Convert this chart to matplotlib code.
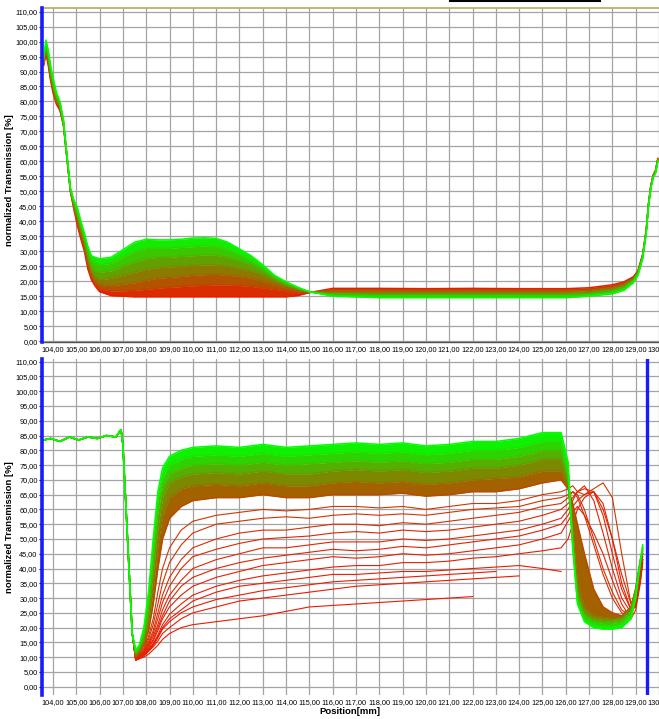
import numpy as np
import matplotlib
matplotlib.use('Agg')
import matplotlib.pyplot as plt
from matplotlib.lines import Line2D

nan = float('nan')
FONT = ['Liberation Sans', 'DejaVu Sans']

# ---------------- data: top panel ----------------
top_x = [103.6, 103.7, 103.8, 103.9, 104.0, 104.15, 104.3, 104.45, 104.6, 104.75,
         104.9, 105.05, 105.2, 105.35, 105.5, 105.65, 105.8, 106.0, 106.5, 107.0,
         107.5, 108.0, 108.5, 109.0, 109.5, 110.0, 110.5, 111.0, 111.5, 112.0,
         112.5, 113.0, 113.5, 114.0, 114.5, 115.0, 116.0, 118.0, 120.0, 122.0,
         124.0, 126.0, 127.0, 128.0, 128.5, 128.9, 129.1, 129.3, 129.45, 129.55,
         129.65, 129.75, 129.85, 129.95]

top_green = [95, 100.5, 97, 92, 88, 83, 80, 74, 62, 51,
             47, 44.5, 40, 36, 31.5, 28.5, 28, 27.5, 28, 30.5,
             33, 34, 33.8, 33.8, 34, 34.4, 34.5, 34.3, 33, 30.8,
             28.5, 25.5, 22, 19.8, 18, 16.5, 15, 14.5, 14.5, 14.5,
             14.5, 14.5, 15, 15.8, 17, 19.5, 22, 27.5, 36, 45,
             51, 54.5, 56, 60]
top_c5 = [94.5, 99.5, 96, 91, 87, 82, 79.5, 73.5, 62, 51,
          46.5, 43.5, 39, 35, 30.5, 27, 26, 25.5, 26, 28,
          30, 31, 31, 31, 31.3, 31.5, 31.8, 31.6, 30.5, 28.8,
          27, 24.5, 21.5, 19.5, 17.8, 16.4, 15.3, 15.0, 15.0, 15.0,
          15.0, 15.0, 15.4, 16.3, 17.5, 20, 22.5, 28, 36.2, 45.2,
          51.2, 54.7, 56.2, 60.2]
top_c4 = [94, 99, 95, 90, 86, 81.5, 79, 73, 62, 50.5,
          46, 42.5, 38, 34, 29, 25, 23.5, 23, 23.5, 25,
          26.5, 27.5, 28, 28, 28.3, 28.5, 28.8, 28.7, 28, 26.8,
          25.5, 23.5, 21, 19, 17.6, 16.4, 15.6, 15.5, 15.5, 15.5,
          15.5, 15.5, 15.8, 16.8, 18, 20.3, 22.8, 28.2, 36.4, 45.4,
          51.4, 54.9, 56.4, 60.4]
top_c3 = [93.5, 98.5, 94.5, 89, 85, 81, 78.5, 73, 61.5, 50.5,
          45.5, 41.5, 37, 33, 27.5, 23.5, 21.5, 20.5, 21, 22,
          23, 24, 24.5, 24.8, 25, 25.3, 25.5, 25.5, 25, 24.3,
          23.5, 22, 20.3, 18.7, 17.4, 16.4, 16.1, 16.0, 16.0, 16.0,
          16.0, 16.0, 16.3, 17.3, 18.5, 20.6, 23, 28.4, 36.5, 45.5,
          51.5, 55, 56.5, 60.5]
top_c2 = [93, 97.5, 93.5, 88, 84.5, 80, 78, 72.5, 61.5, 50,
          45, 40.5, 36, 32, 26.5, 22.5, 20, 19, 18.5, 19,
          19.5, 20.3, 21, 21.3, 21.6, 22, 22.2, 22.3, 22, 21.6,
          21, 20, 19, 17.8, 16.9, 16.3, 16.6, 16.6, 16.6, 16.6,
          16.6, 16.6, 16.9, 17.8, 19, 20.9, 23.2, 28.6, 36.7, 45.7,
          51.7, 55.2, 56.7, 60.7]
top_c1 = [92.5, 96.8, 92.8, 87.5, 83.8, 79.5, 77.5, 72.3, 61.2, 50,
          44.5, 39.5, 35, 31, 25.2, 21.5, 19.2, 17.5, 16.8, 16.8,
          17, 17.3, 17.7, 18, 18.2, 18.5, 18.6, 18.8, 18.8, 18.6,
          18.3, 17.8, 17.3, 16.8, 16.2, 16.2, 17.1, 17.1, 17.0, 17.1,
          17.0, 17.0, 17.3, 18.3, 19.4, 21.2, 23.4, 28.8, 36.8, 45.8,
          51.8, 55.3, 56.8, 60.8]
top_red = [92, 96, 92, 87, 83, 79, 77, 72, 61, 50,
           44, 38.5, 34, 30, 24, 20.5, 18.5, 16.5, 15.2, 15,
           14.8, 14.8, 14.8, 14.8, 14.8, 14.8, 14.8, 14.8, 14.8, 14.8,
           14.8, 14.8, 14.8, 14.8, 15.2, 16.2, 17.6, 17.6, 17.5, 17.6,
           17.5, 17.5, 17.8, 18.8, 19.8, 21.5, 23.5, 29, 37, 46,
           52, 55.5, 57, 61]

# ---------------- data: bottom panel ----------------
bot_x_left = [103.6, 103.9, 104.3, 104.7, 105.1, 105.5, 105.9, 106.3, 106.7, 106.92,
              107.0, 107.2, 107.4]
bot_left_vals = [83.5, 84.0, 83.0, 84.5, 83.5, 84.5, 84.0, 85.0, 84.5, 87.0,
                 82.0, 50.0, 18.0]
bot_x_right = [107.55, 107.7, 107.9, 108.1, 108.3, 108.5, 108.7, 109.0, 109.5, 110.0,
               111.0, 112.0, 113.0, 114.0, 115.0, 116.0, 117.0, 118.0, 119.0, 120.0,
               121.0, 122.0, 123.0, 124.0, 125.0, 125.8, 126.1, 126.3, 126.5, 126.8,
               127.2, 127.6, 128.0, 128.4, 128.8, 129.0, 129.2, 129.3]

bot_g1 = [12.5, 14, 20, 32, 50, 66, 74, 78, 80, 81,
          81.5, 81, 82, 81, 81.5, 82, 82.5, 82, 82.5, 81.5,
          82, 83, 83, 84, 86, 86, 76, 48, 28, 22,
          20, 19.5, 19.5, 20, 23, 30, 42, 48]
bot_g2 = [12, 13.5, 19, 30, 47, 63, 71, 75, 77, 78,
          78.5, 78, 79, 78, 78.5, 79, 79.5, 79, 79.5, 78.5,
          79, 80, 80, 81, 83, 83, 73, 47, 29, 23,
          21, 20.5, 20.5, 21, 24, 31, 42, 47]
bot_g3 = [11.5, 13, 17.5, 27, 43, 59, 68, 72, 74, 75,
          75.5, 75, 76, 75, 75.5, 76, 76.5, 76, 76.5, 75.5,
          76, 77, 77, 78, 80, 80, 71, 48, 30, 24,
          22, 21.5, 21.5, 22, 25, 32, 43, 47]
bot_o1 = [11, 12.5, 16, 24, 38, 54, 64, 69, 71, 72,
          72.5, 72, 73, 72, 72, 73, 73.5, 73, 73.5, 72.5,
          73, 74, 74, 75, 77, 77, 70, 50, 32, 25,
          23, 22.5, 22.5, 23, 26, 33, 43, 46]
bot_o2 = [10.5, 12, 15, 21, 33, 48, 58, 64, 67, 68,
          68.5, 68, 69, 68, 68, 69, 69.5, 69, 69.5, 68.5,
          69, 70, 70.5, 71, 73, 73, 68, 52, 35, 27,
          24, 23.5, 23, 23.5, 27, 33, 42, 45]
bot_r1 = [10, 11.5, 14, 19, 28, 40, 50, 57, 61, 63,
          64, 64, 65, 64, 64, 65, 65, 65, 65.5, 64.5,
          65, 66, 66, 67, 69, 70, 67, 62, 55, 45,
          33, 27, 25, 24, 27, 33, 42, 45]
bot_r2 = [10, 11, 13, 17, 23, 32, 40, 47, 53, 56,
          58, 59, 60, 59.5, 60, 61, 61, 60.5, 61, 60,
          61, 62, 62, 63, 65, 66, 67, 68, 66, 65,
          67, 69, 64, 45, 28, 32, 40, 44]
bot_r11 = [10, 11, 12.5, 16, 21, 28, 35, 42, 48, 52,
           55, 56, 57, 57.5, 57, 58, 58.5, 58, 58.5, 58,
           59, 60, 60.5, 61, 63, 64, 65, 66, 64, 58,
           48, 38, 30, 25, 24, 29, 38, 43]
bot_r3 = [9.5, 10.5, 12, 15, 19, 25, 31, 37, 43, 47,
          50, 52, 53, 53, 54, 55, 55, 54.5, 55.5, 55,
          56, 57, 58, 59, 61, 62, 64, 66, 65, 60,
          50, 40, 32, 26, 24, 30, 39, 44]
bot_r4 = [9.5, 10.5, 12, 14.5, 18, 23, 28.5, 34, 40, 44,
          46.5, 48.5, 50, 50.5, 51, 52, 52.5, 52, 53, 52.5,
          53, 54, 55, 56, 58, 60, 62, 64, 66, 67,
          66, 60, 50, 38, 28, 28, 37, 43]
bot_r5 = [9.5, 10.5, 11.5, 14, 17, 21, 26, 31, 36, 40,
          43, 45, 47, 47, 48, 49, 49, 49, 50, 49.5,
          50, 51, 52, 53, 55, 57, 60, 63, 66, 68,
          63, 52, 40, 30, 25, 28, 38, 43]
bot_r12 = [9.5, 10, 11.5, 13.5, 16, 20, 24, 29, 34, 37,
           40, 42, 43.5, 44.5, 45.5, 46.5, 46, 46.5, 47.5, 47,
           48, 49, 50, 51, 53, 55, 58, 61, 63, 65,
           66, 58, 45, 33, 26, 27, 37, 43]
bot_r6 = [9, 10, 11, 13, 15.5, 19, 23, 27, 31, 34,
          37, 39, 41, 42, 43, 44, 43.5, 44, 45, 44.5,
          45, 46, 47, 48, 50, 52, 56, 59, 61, 58,
          52, 45, 36, 28, 23, 26, 35, 42]
bot_r7 = [9, 10, 11, 12.5, 14.5, 17.5, 21, 24.5, 28, 31,
          34, 36, 37.5, 38.5, 39.5, 40.5, 41, 41, 42, 42,
          42.5, 43.5, 44, 45, 46, 47, 50, 55, 60, 64,
          66, 62, 50, 35, 26, 27, 36, 42]
bot_r8 = [9, 10, 11, 12.5, 14.5, 17, 20, 23, 26, 29,
          32, 34, 35, 36, 37, 38, 38, 38.5, 39, 39,
          39.5, 40, 40.5, 41, 40, 39, nan, nan, nan, nan,
          nan, nan, nan, nan, nan, nan, nan, nan]
bot_r13 = [9, 9.5, 10.5, 12, 14, 16.5, 19.5, 22, 25, 27,
           29.5, 31, 32.5, 33.5, 34.5, 35.5, 36, 36.5, 37, 37.5,
           38, 38.5, 39, nan, nan, nan, nan, nan, nan, nan,
           nan, nan, nan, nan, nan, nan, nan, nan]
bot_r9 = [9, 9.5, 10.5, 12, 13.5, 15.5, 18, 20, 23, 25,
          27, 29, 30, 31, 32, 33, 34, 34.5, 35, 35.5,
          36, 36.5, 37, 37.5, nan, nan, nan, nan, nan, nan,
          nan, nan, nan, nan, nan, nan, nan, nan]
bot_r10 = [9, 9.5, 10, 11, 12.5, 14, 16, 18, 20, 21,
           22, 23, 24, 25.5, 27, 27.5, 28, 28.5, 29, 29.5,
           30, 30.5, nan, nan, nan, nan, nan, nan, nan, nan,
           nan, nan, nan, nan, nan, nan, nan, nan]

x_ticks = list(range(104, 131))
y_ticks = list(range(0, 111, 5))


def mix(f):
    r0, g0 = 0.93, 0.10
    return (r0 * (1 - f), g0 + (1.0 - g0) * f, 0.0)


def fmt(v):
    return f"{v:.2f}".replace('.', ',')


fig = plt.figure(figsize=(6.59, 7.19), dpi=100)
W, H = 659.0, 719.0
ax_top = fig.add_axes([42 / W, 1 - 342 / H, 617 / W, 334 / H])
ax_bot = fig.add_axes([42 / W, 1 - 695 / H, 617 / W, 336 / H])

for ax, ylo, yhi in [(ax_top, -0.3, 111.2), (ax_bot, -2.8, 110.9)]:
    ax.set_xlim(103.53, 129.99)
    ax.set_ylim(ylo, yhi)
    ax.set_xticks(x_ticks)
    ax.set_xticklabels([fmt(v) for v in x_ticks], family=FONT, fontsize=5.3)
    ax.set_yticks(y_ticks)
    ax.set_yticklabels([fmt(v) for v in y_ticks], family=FONT, fontsize=5.3)
    ax.tick_params(axis='x', length=0, pad=3)
    ax.tick_params(axis='y', length=2.5, width=0.8, pad=0.6, direction='out')
    ax.grid(True, color='#a4a4a4', lw=0.9, zorder=0)
    ax.set_axisbelow(True)
    for s in ax.spines.values():
        s.set_visible(False)
    ax.spines['left'].set_visible(True)
    ax.spines['left'].set_color('#1a1aff')
    ax.spines['left'].set_linewidth(2.6)
    ax.spines['left'].set_zorder(10)

ax_top.spines['top'].set_visible(True)
ax_top.spines['top'].set_color('#b5ad55')
ax_top.spines['top'].set_linewidth(1.2)
ax_top.spines['bottom'].set_visible(True)
ax_top.spines['bottom'].set_color('#505050')
ax_top.spines['bottom'].set_linewidth(1.0)

# ---- top panel curves ----
top_curves = [top_red, top_c1, top_c2, top_c3, top_c4, top_c5, top_green]
top_fracs = [0.0, 0.17, 0.33, 0.5, 0.67, 0.83, 1.0]
for i in range(len(top_curves) - 1):
    ax_top.fill_between(top_x, top_curves[i], top_curves[i + 1],
                        color=mix((top_fracs[i] + top_fracs[i + 1]) / 2), lw=0, zorder=3)
for c, f in zip(top_curves, top_fracs):
    ax_top.plot(top_x, c, color=mix(f), lw=1.1, zorder=4)

# ---- bottom panel curves ----
full_x = bot_x_left + bot_x_right
scatter_curves = [bot_r10, bot_r9, bot_r13, bot_r8, bot_r7, bot_r6, bot_r12, bot_r5,
                  bot_r4, bot_r3, bot_r11, bot_r2]
scatter_fracs = [0.0, 0.0, 0.0, 0.0, 0.02, 0.02, 0.03, 0.04, 0.05, 0.08, 0.1, 0.12]
for c, f in zip(scatter_curves, scatter_fracs):
    ax_bot.plot(full_x, bot_left_vals + c, color=mix(f), lw=0.8, zorder=3)

band_curves = [bot_r1, bot_o2, bot_o1, bot_g3, bot_g2, bot_g1]
band_fracs = [0.22, 0.4, 0.56, 0.74, 0.88, 1.0]
for i in range(len(band_curves) - 1):
    ax_bot.fill_between(full_x, bot_left_vals + band_curves[i], bot_left_vals + band_curves[i + 1],
                        color=mix((band_fracs[i] + band_fracs[i + 1]) / 2), lw=0, zorder=4)
for c, f in zip(band_curves, band_fracs):
    ax_bot.plot(full_x, bot_left_vals + c, color=mix(f), lw=1.1, zorder=5)

ax_bot.axvline(129.47, color='#1a1aff', lw=2.4, zorder=10)

# ---- labels ----
fig.text(10 / W, 1 - 180 / H, 'normalized Transmission [%]', rotation=90, ha='center', va='center',
         fontsize=6.8, fontweight='bold', family=FONT)
fig.text(10 / W, 1 - 527 / H, 'normalized Transmission [%]', rotation=90, ha='center', va='center',
         fontsize=6.8, fontweight='bold', family=FONT)
fig.text(350 / W, 1 - 712 / H, 'Position[mm]', ha='center', va='center',
         fontsize=6.8, fontweight='bold', family=FONT)
fig.add_artist(Line2D([450 / W, 600 / W], [1 - 1 / H, 1 - 1 / H], color='black', lw=1.5))

fig.savefig('out.png', dpi=100)
